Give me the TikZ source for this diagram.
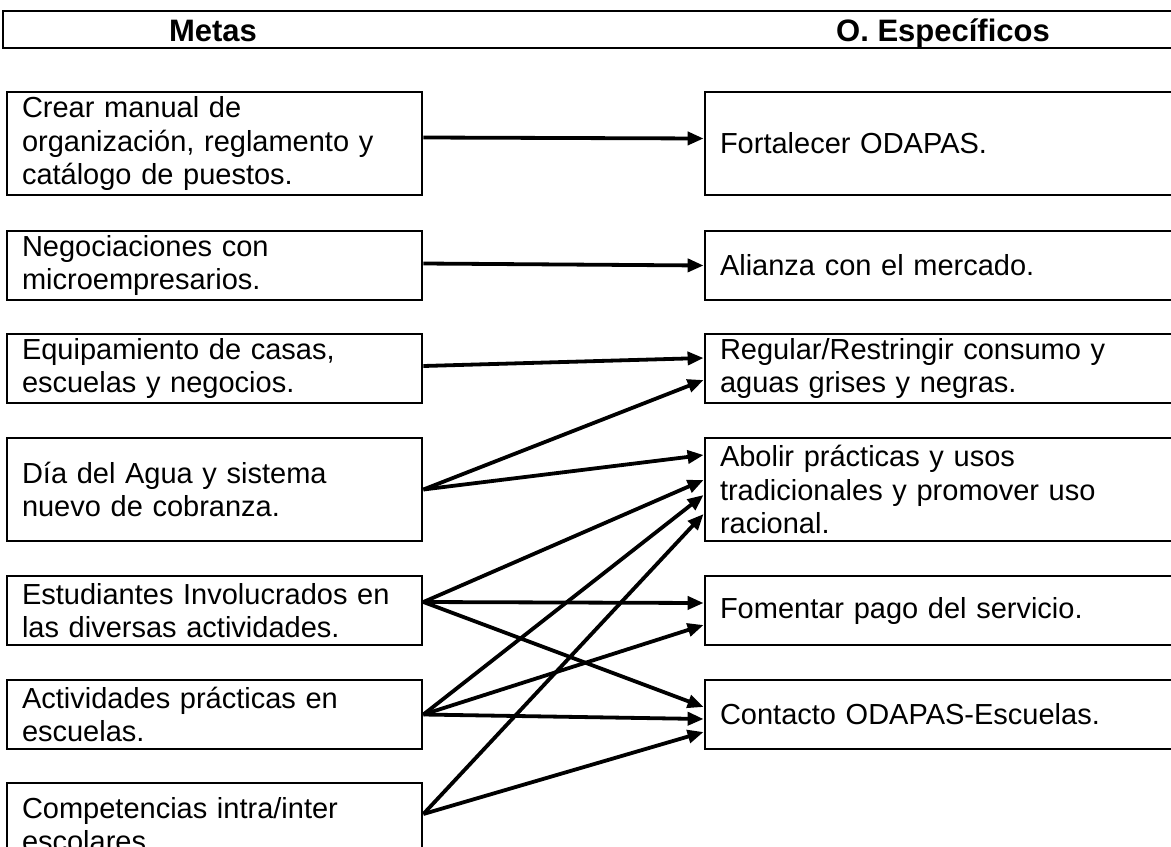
\documentclass[tikz,border=0pt]{standalone}
\usepackage{fontspec}
\setmainfont{Liberation Sans}
\usetikzlibrary{arrows.meta}

\tikzset{
  caja/.style={draw, line width=1.4pt, rectangle, align=left,
    inner xsep=7.5pt, inner ysep=1pt,
    font=\fontsize{14.5pt}{16.6pt}\selectfont},
  meta/.style={caja, minimum width=207.5pt, text width=192.5pt},
  objetivo/.style={caja, minimum width=242.5pt, text width=227.5pt},
  flecha/.style={line width=1.9pt, -{Triangle[length=8pt,width=6.5pt]}},
  titulo/.style={font=\fontsize{15.5pt}{18pt}\selectfont\bfseries, anchor=base}
}

\begin{document}
\begin{tikzpicture}[x=0.5pt,y=-0.5pt]
        \useasboundingbox (0,0) rectangle (1171,846);
        \clip (0,0) rectangle (1171,846);

        % encabezado
        \node[draw, line width=1.4pt, minimum width=593.5pt, minimum height=18.5pt,
              inner sep=0pt] (encabezado) at (596.5,29.5) {};
        \node[titulo] (tmetas) at (213,41.5) {Metas};
        \node[titulo] (tobjetivos) at (943,41.5) {O. Específicos};

        % metas
        \node[meta, minimum height=51.5pt] (m1) at (214.5,143.5) {Crear manual de\\organización, reglamento y\\catálogo de puestos.};
        \node[meta, minimum height=34.5pt] (m2) at (214.5,265.5) {Negociaciones con\\microempresarios.};
        \node[meta, minimum height=34.5pt] (m3) at (214.5,368.5) {Equipamiento de casas,\\escuelas y negocios.};
        \node[meta, minimum height=51.5pt] (m4) at (214.5,489.5) {Día del Agua y sistema\\nuevo de cobranza.};
        \node[meta, minimum height=34.5pt] (m5) at (214.5,610.5) {Estudiantes Involucrados en\\las diversas actividades.};
        \node[meta, minimum height=34.5pt] (m6) at (214.5,714.5) {Actividades prácticas en\\escuelas.};
        \node[meta, minimum height=42pt] (m7) at (214.5,825) {Competencias intra/inter\\escolares.};

        % objetivos especificos
        \node[objetivo, minimum height=51.5pt] (o1) at (947.5,143.5) {Fortalecer ODAPAS.};
        \node[objetivo, minimum height=34.5pt] (o2) at (947.5,265.5) {Alianza con el mercado.};
        \node[objetivo, minimum height=34.5pt] (o3) at (947.5,368.5) {Regular/Restringir consumo y\\aguas grises y negras.};
        \node[objetivo, minimum height=51.5pt] (o4) at (947.5,489.5) {Abolir prácticas y usos\\tradicionales y promover uso\\racional.};
        \node[objetivo, minimum height=34.5pt] (o5) at (947.5,610.5) {Fomentar pago del servicio.};
        \node[objetivo, minimum height=34.5pt] (o6) at (947.5,714.5) {Contacto ODAPAS-Escuelas.};

        % flechas
        \draw[flecha] ([yshift=3pt]m1.east) -- ([yshift=2.5pt]o1.west);
        \draw[flecha] ([yshift=1pt]m2.east) -- (o2.west);
        \draw[flecha] ([yshift=1.25pt]m3.east) -- ([yshift=5.25pt]o3.west);
        \draw[flecha] (m4.east) -- ([yshift=-5.75pt]o3.west);
        \draw[flecha] (m4.east) -- ([yshift=17.25pt]o4.west);
        \draw[flecha] ([yshift=4.25pt]m5.east) -- ([yshift=4.75pt]o4.west);
        \draw[flecha] ([yshift=4.25pt]m5.east) -- ([yshift=3.75pt]o5.west);
        \draw[flecha] ([yshift=4.25pt]m5.east) -- ([yshift=3.75pt]o6.west);
        \draw[flecha] (m6.east) -- ([yshift=-2.75pt]o4.west);
        \draw[flecha] (m6.east) -- ([yshift=-7.25pt]o5.west);
        \draw[flecha] (m6.east) -- ([yshift=-2.25pt]o6.west);
        \draw[flecha] ([yshift=5.5pt]m7.east) -- ([yshift=-12.25pt]o4.west);
        \draw[flecha] ([yshift=5.5pt]m7.east) -- ([yshift=-8.75pt]o6.west);
\end{tikzpicture}
\end{document}
